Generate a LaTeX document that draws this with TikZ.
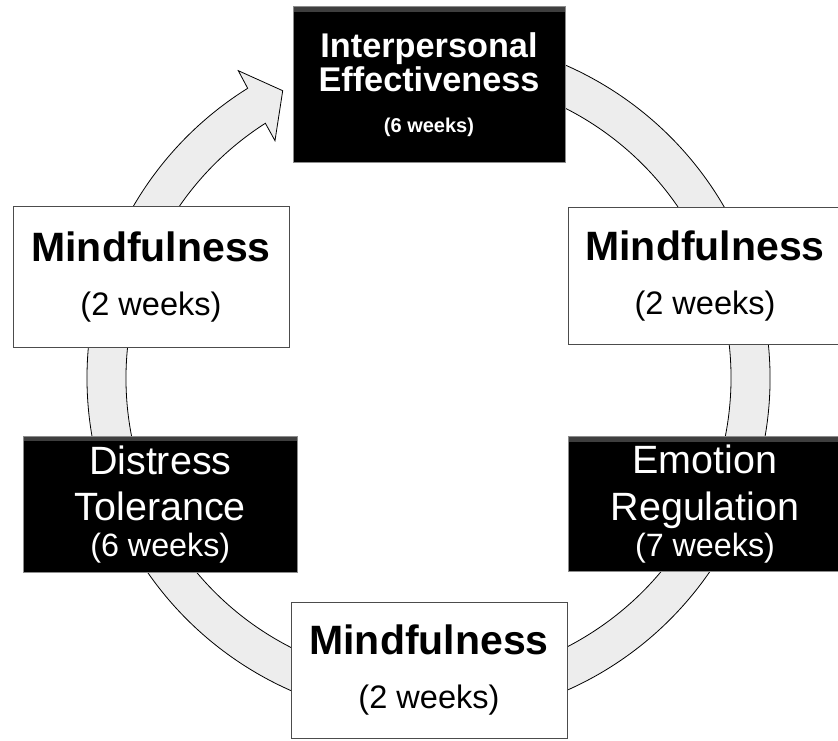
\documentclass[tikz,border=0pt]{standalone}
\usepackage{fontspec}
\setmainfont{Liberation Sans}
\usetikzlibrary{calc}
\definecolor{ringgray}{HTML}{EDEDED}
\begin{document}
\begin{tikzpicture}[x=0.75pt,y=0.75pt,
  whitebox/.style={draw=black!70, fill=white, line width=0.75pt, align=center, inner sep=0pt},
  blackbox/.style={draw=black!45, fill=black, text=white, line width=0.75pt, align=center, inner sep=0pt,
    path picture={\shade[top color=black!75, bottom color=black]
      (path picture bounding box.north west) rectangle ([yshift=-3.5pt]path picture bounding box.north east);}},
  ringarrow/.style={draw=black, fill=ringgray, line width=0.6pt, line join=miter},
  mindfont/.style={font=\fontsize{24.4}{40.5}\selectfont},
  skillfont/.style={font=\fontsize{29.6}{35}\selectfont}]
\useasboundingbox (0,0) rectangle (838,740);
\clip (0,0) rectangle (838,740);
\coordinate (c) at (428.5,362);
% cycle arrow
\draw[ringarrow] ($(c)+(100:341.5)$) arc[start angle=100, end angle=-238.03, radius=341.5]
  -- ($(c)+(-190.2,307.3)$) -- ($(c)+(-145.8,287.3)$) -- ($(c)+(-153.5,237.3)$)
  -- ($(c)+(122.64:302.5)$) arc[start angle=-237.36, end angle=100, radius=302.5] -- cycle;
% boxes
\node[blackbox, minimum width=272*0.75pt, minimum height=155.5*0.75pt,
  font=\fontsize{25.7}{25.8}\selectfont\bfseries] (ie) at (429,655.5)
  {Interpersonal\\Effectiveness\\[4.4pt]{\fontsize{15}{25.8}\selectfont (6 weeks)}};
\node[whitebox, mindfont, minimum width=276*0.75pt, minimum height=140*0.75pt] (mlu) at (151,463)
  {{\fontsize{30.75}{40.5}\selectfont\bfseries Mindfulness}\\(2 weeks)};
\node[whitebox, mindfont, minimum width=274*0.75pt, minimum height=136*0.75pt] (mru) at (705,464)
  {{\fontsize{30.75}{40.5}\selectfont\bfseries Mindfulness}\\(2 weeks)};
\node[blackbox, skillfont, minimum width=274*0.75pt, minimum height=136.5*0.75pt] (dt) at (160.3,235.6)
  {Distress\\Tolerance\\[-8pt]{\fontsize{24.2}{35}\selectfont (6 weeks)}};
\node[blackbox, skillfont, minimum width=274*0.75pt, minimum height=135*0.75pt] (er) at (705,235.8)
  {Emotion\\Regulation\\[-8pt]{\fontsize{24.2}{35}\selectfont (7 weeks)}};
\node[whitebox, mindfont, minimum width=276*0.75pt, minimum height=136*0.75pt] (mb) at (429,70)
  {{\fontsize{30.75}{40.5}\selectfont\bfseries Mindfulness}\\(2 weeks)};
\end{tikzpicture}
\end{document}
